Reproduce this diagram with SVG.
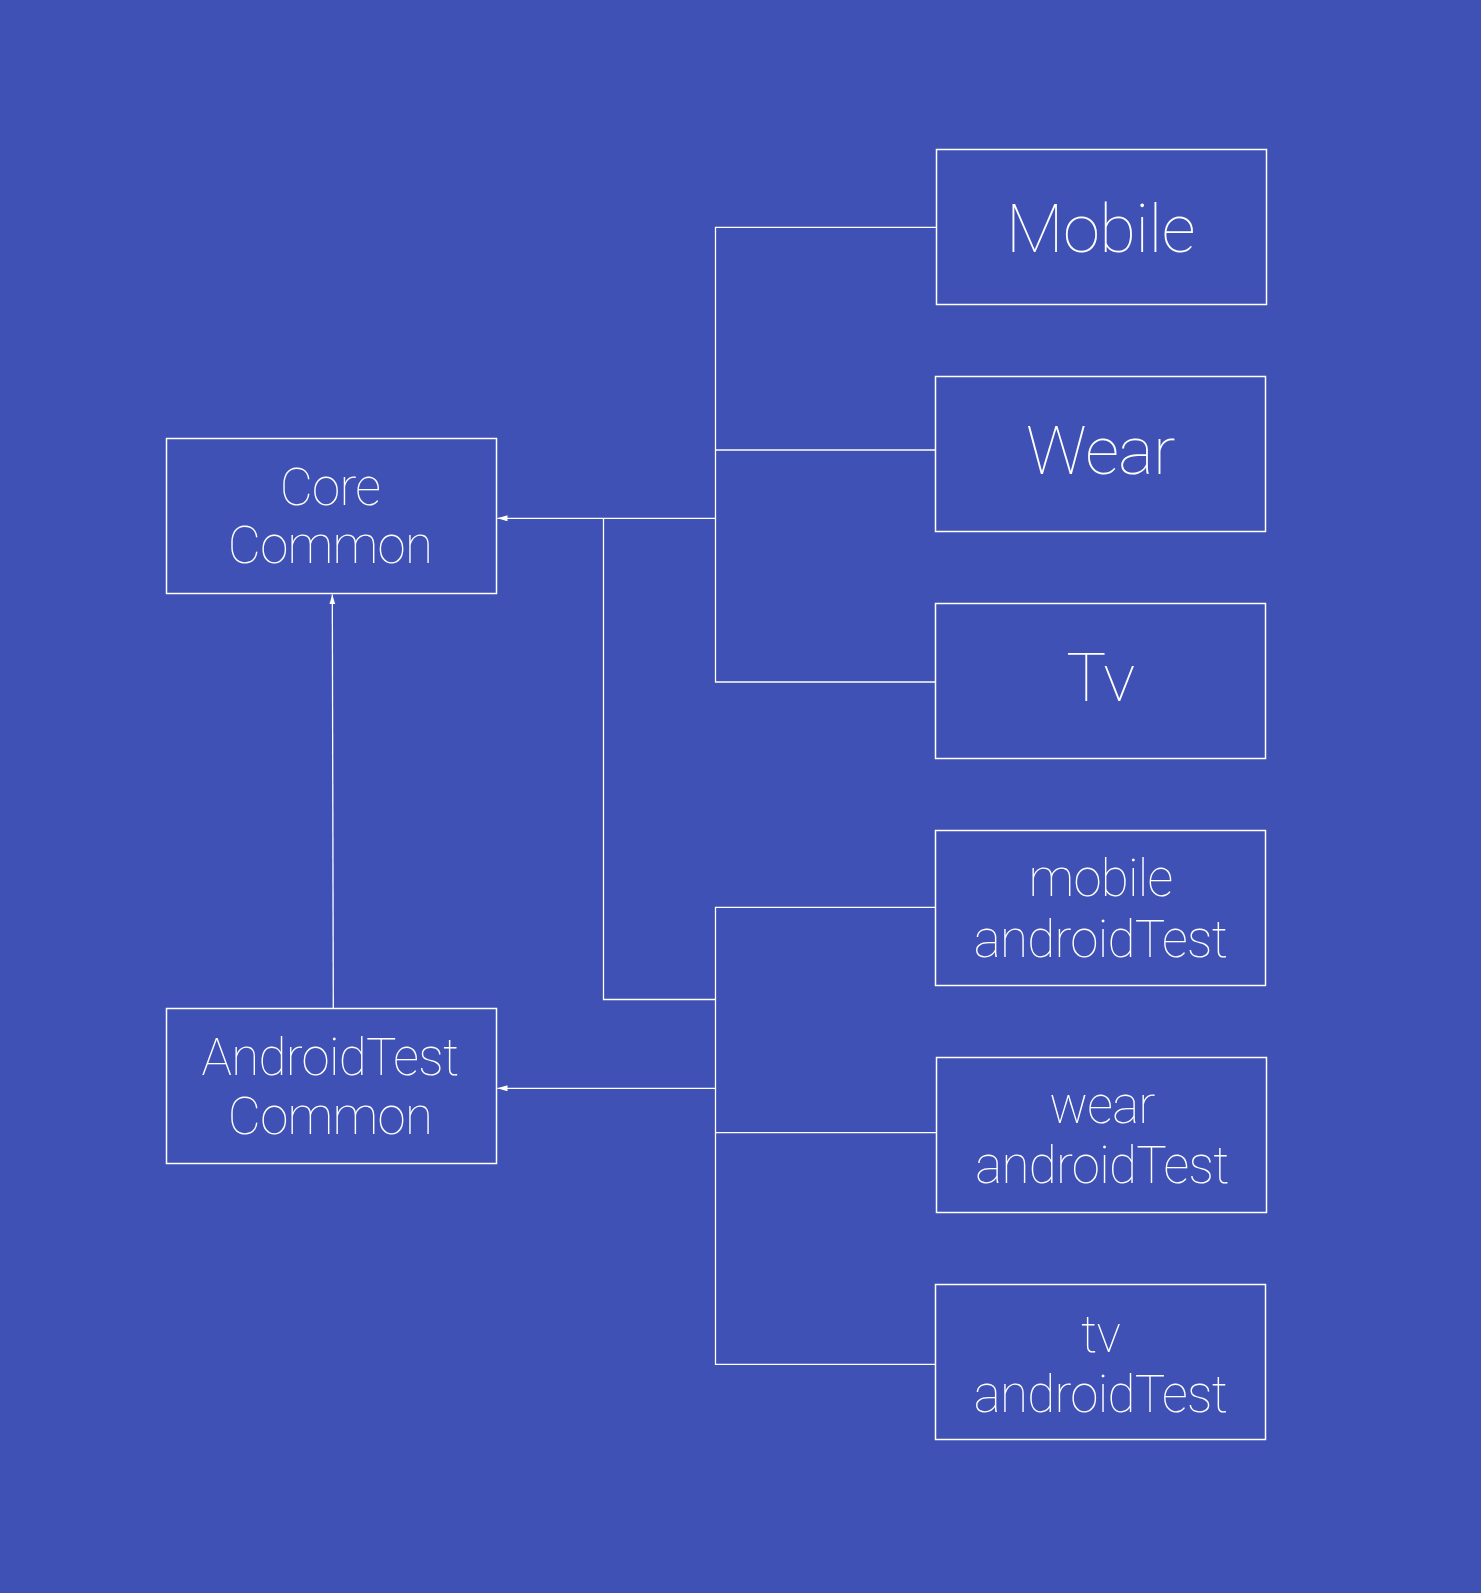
<svg xmlns="http://www.w3.org/2000/svg" width="1481" height="1593" viewBox="0 0 1481 1593">
<style>
.bg{fill:#3F51B5}
.box{fill:none;stroke:#ffffff;stroke-width:1.5}
.ln{fill:none;stroke:#ffffff;stroke-width:1.3}
text{font-family:Roboto,"Noto Sans",sans-serif;font-weight:100;fill:#ffffff;text-anchor:middle}
.big{font-size:67px;letter-spacing:-0.6px}
.sm{font-size:51px;letter-spacing:-0.7px}
</style>
<defs>
<marker id="ah" markerUnits="userSpaceOnUse" markerWidth="12" markerHeight="8" refX="10" refY="3" orient="auto">
<path d="M0,0 L10,3 L0,6 z" fill="#ffffff"/>
</marker>
</defs>
<rect class="bg" x="0" y="0" width="1481" height="1593"/>
<g id="connectors">
<path class="ln" d="M936.5,227.3 H715.5 V682 H935.5"/>
<path class="ln" d="M715.5,450 H935.5"/>
<path class="ln" d="M715.5,518.3 H497.5" marker-end="url(#ah)"/>
<path class="ln" d="M603.5,518.3 V999.5 H715.5"/>
<path class="ln" d="M935.5,907.3 H715.5 V1364.3 H935.5"/>
<path class="ln" d="M715.5,1132.7 H936.5"/>
<path class="ln" d="M715.5,1088.3 H497.5" marker-end="url(#ah)"/>
<path class="ln" d="M333.3,1008.5 L332.3,594.5" marker-end="url(#ah)"/>
</g>
<g id="core-common">
<rect class="box" x="166.5" y="438.5" width="330" height="155"/>
<text class="sm" x="330" y="505">Core</text>
<text class="sm" x="330" y="563.3">Common</text>
</g>
<g id="androidtest-common">
<rect class="box" x="166.5" y="1008.5" width="330" height="155"/>
<text class="sm" x="330" y="1075">AndroidTest</text>
<text class="sm" x="330" y="1134.3">Common</text>
</g>
<g id="mobile">
<rect class="box" x="936.5" y="149.5" width="330" height="155"/>
<text class="big" x="1100.5" y="251.7">Mobile</text>
</g>
<g id="wear">
<rect class="box" x="935.5" y="376.5" width="330" height="155"/>
<text class="big" x="1100.5" y="474">Wear</text>
</g>
<g id="tv">
<rect class="box" x="935.5" y="603.5" width="330" height="155"/>
<text class="big" x="1100.5" y="701">Tv</text>
</g>
<g id="mobile-androidtest">
<rect class="box" x="935.5" y="830.5" width="330" height="155"/>
<text class="sm" x="1100.5" y="896">mobile</text>
<text class="sm" x="1100.5" y="956.7">androidTest</text>
</g>
<g id="wear-androidtest">
<rect class="box" x="936.5" y="1057.5" width="330" height="155"/>
<text class="sm" x="1102" y="1123.3">wear</text>
<text class="sm" x="1102" y="1183.3">androidTest</text>
</g>
<g id="tv-androidtest">
<rect class="box" x="935.5" y="1284.5" width="330" height="155"/>
<text class="sm" x="1100.5" y="1351.7">tv</text>
<text class="sm" x="1100.5" y="1411.7">androidTest</text>
</g>
</svg>
